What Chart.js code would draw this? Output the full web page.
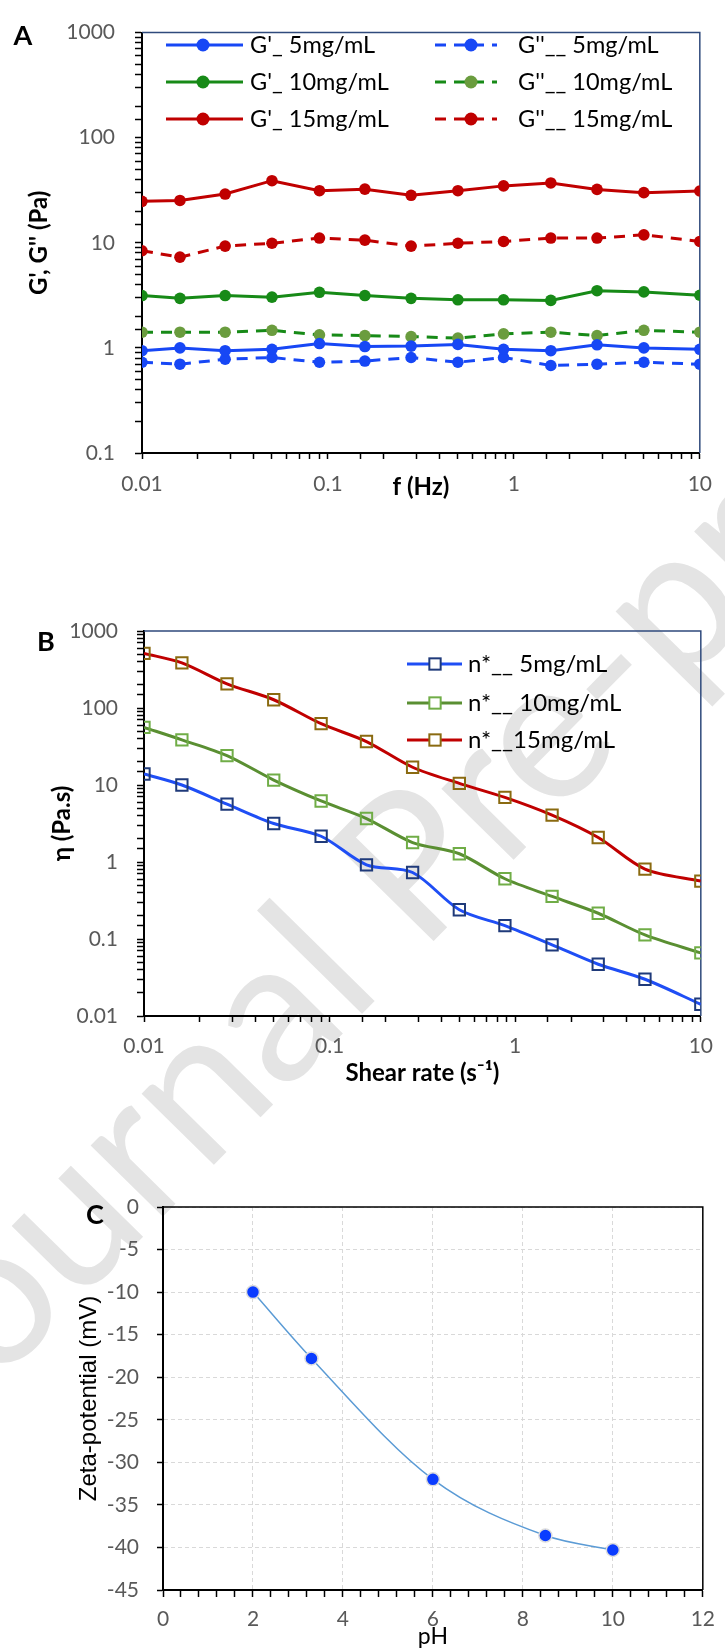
<!DOCTYPE html>
<html>
<head>
<meta charset="utf-8">
<script src="https://cdn.jsdelivr.net/npm/chart.js@4.4.1/dist/chart.umd.min.js"></script>
<style>
  html, body { margin: 0; padding: 0; background: #fff; overflow: hidden; }
  #page { position: relative; width: 725px; height: 1652px; overflow: hidden; }
  canvas { position: absolute; left: 0; z-index: 1; }
  .wm {
    position: absolute; left: 420px; top: 845px; z-index: 0;
    transform: translate(-50%, -50%) rotate(-45.5deg);
    font-family: Lato, sans-serif; font-size: 200px; color: #e4e4e4;
    white-space: nowrap;
  }
</style>
</head>
<body>
<div id="page">
  <div class="wm">Journal Pre-proof</div>
  <canvas id="chartA" width="725" height="540" style="top:0"></canvas>
  <canvas id="chartB" width="725" height="540" style="top:560px"></canvas>
  <canvas id="chartC" width="725" height="502" style="top:1150px"></canvas>
</div>
<script>
// frequency / shear rate sweep (same points for A and B)
var freq = [0.01, 0.016, 0.028, 0.05, 0.09, 0.158, 0.28, 0.5, 0.88, 1.58, 2.8, 5, 10];

// A : moduli (Pa)
var gp5   = [0.94, 1.0, 0.94, 0.97, 1.10, 1.03, 1.04, 1.08, 0.97, 0.94, 1.07, 1.0, 0.97];
var gpp5  = [0.73, 0.70, 0.78, 0.81, 0.73, 0.75, 0.81, 0.73, 0.81, 0.68, 0.70, 0.73, 0.70];
var gp10  = [3.15, 2.96, 3.15, 3.04, 3.38, 3.15, 2.96, 2.87, 2.87, 2.83, 3.50, 3.41, 3.17];
var gpp10 = [1.41, 1.41, 1.41, 1.47, 1.33, 1.31, 1.28, 1.24, 1.36, 1.41, 1.31, 1.47, 1.41];
var gp15  = [24.8, 25.3, 29.1, 39.0, 31.3, 32.4, 28.3, 31.3, 34.8, 37.1, 32.2, 30.0, 31.1];
var gpp15 = [8.4, 7.3, 9.3, 9.9, 11.1, 10.6, 9.3, 9.9, 10.3, 11.1, 11.1, 11.9, 10.3];

// B : complex viscosity (Pa.s)
var eta5  = [13.9, 10.0, 5.65, 3.16, 2.16, 0.92, 0.73, 0.24, 0.149, 0.084, 0.047, 0.030, 0.0142];
var eta10 = [56, 38.6, 24.1, 11.6, 6.2, 3.67, 1.79, 1.28, 0.606, 0.357, 0.216, 0.113, 0.066];
var eta15 = [512, 386, 206, 128, 62.5, 36.7, 17.0, 10.5, 6.9, 4.06, 2.08, 0.81, 0.565];

// C : zeta potential vs pH
var ph   = [2, 3.3, 6, 8.5, 10];
var zeta = [-10, -17.8, -32, -38.6, -40.3];

Chart.defaults.font.family = 'Lato, sans-serif';

function pairs(xs, ys) {
  return xs.map(function(x, i) { return { x: x, y: ys[i] }; });
}

// only label the decades on log axes
function decadeLabel(v) {
  var l = Math.log10(v);
  return Math.abs(l - Math.round(l)) < 1e-6 ? String(Math.pow(10, Math.round(l))) : '';
}

function isEven(v) {
  return Math.abs(v / 2 - Math.round(v / 2)) < 1e-6;
}

// top + right border of the plot area
var framePlugin = {
  id: 'frame',
  beforeDatasetsDraw: function(chart, args, opts) {
    var a = chart.chartArea, ctx = chart.ctx;
    ctx.save();
    ctx.strokeStyle = opts.color;
    ctx.lineWidth = opts.width;
    ctx.beginPath();
    ctx.moveTo(a.left, a.top);
    ctx.lineTo(a.right, a.top);
    ctx.lineTo(a.right, a.bottom);
    ctx.stroke();
    ctx.restore();
  }
};

// legend drawn inside the plot, one entry per item
var keyPlugin = {
  id: 'key',
  afterDraw: function(chart, args, opts) {
    var ctx = chart.ctx;
    ctx.save();
    ctx.font = opts.font;
    ctx.textBaseline = 'middle';
    opts.items.forEach(function(it) {
      var ds = chart.data.datasets[it.ds];
      var cx = it.mx;
      ctx.strokeStyle = ds.borderColor;
      ctx.lineWidth = ds.borderWidth;
      ctx.setLineDash(ds.borderDash || []);
      ctx.beginPath();
      ctx.moveTo(it.x1, it.y);
      ctx.lineTo(it.x2, it.y);
      ctx.stroke();
      ctx.setLineDash([]);
      if (ds.pointStyle === 'rect') {
        var s = opts.radius * Math.SQRT1_2;
        ctx.fillStyle = '#fff';
        ctx.fillRect(cx - s, it.y - s, 2 * s, 2 * s);
        ctx.strokeStyle = ds.pointBorderColor;
        ctx.lineWidth = ds.pointBorderWidth;
        ctx.strokeRect(cx - s, it.y - s, 2 * s, 2 * s);
      } else {
        ctx.fillStyle = ds.pointBackgroundColor;
        ctx.beginPath();
        ctx.arc(cx, it.y, opts.radius, 0, Math.PI * 2);
        ctx.fill();
      }
      ctx.fillStyle = '#000';
      ctx.fillText(ds.label, it.tx, it.y);
    });
    ctx.restore();
  }
};

// panel letter
var tagPlugin = {
  id: 'tag',
  afterDraw: function(chart, args, opts) {
    var ctx = chart.ctx;
    ctx.save();
    ctx.font = 'bold 27px Lato, sans-serif';
    ctx.fillStyle = '#000';
    ctx.textAlign = 'center';
    ctx.textBaseline = 'middle';
    ctx.fillText(opts.text, opts.x, opts.y);
    ctx.restore();
  }
};

function logAxis(min, max, size, pos, o) {
  var horiz = pos === 'bottom';
  return {
    type: 'logarithmic', position: pos, min: min, max: max,
    afterFit: function(s) { if (horiz) s.height = size; else s.width = size; },
    border: { color: '#000', width: 2 },
    grid: { drawOnChartArea: false, tickLength: horiz ? 6 : 7, tickColor: '#000', tickWidth: 1.5 },
    ticks: { autoSkip: false, maxRotation: 0, padding: o.pad, color: '#595959', font: { size: 21 }, callback: decadeLabel },
    title: { display: true, text: o.title, color: '#000', font: { size: 24, weight: 'bold' }, padding: o.titlePad }
  };
}

// ---------- A ----------
var blue = '#1747f5', green = '#178a17', green2 = '#6a9c3e', red = '#c00000';

function seriesA(label, vals, color, marker, dash) {
  return {
    label: label, data: pairs(freq, vals),
    borderColor: color, backgroundColor: marker, borderWidth: 3, borderDash: dash,
    pointRadius: 5.8, pointBackgroundColor: marker, pointBorderColor: marker, pointBorderWidth: 0
  };
}

var chartA = new Chart(document.getElementById('chartA').getContext('2d'), {
  type: 'line',
  data: {
    datasets: [
      seriesA("G'_ 5mg/mL", gp5, blue, blue, []),
      seriesA("G''__ 5mg/mL", gpp5, blue, blue, [11, 8]),
      seriesA("G'_ 10mg/mL", gp10, green, green, []),
      seriesA("G''__ 10mg/mL", gpp10, green, green2, [11, 8]),
      seriesA("G'_ 15mg/mL", gp15, red, red, []),
      seriesA("G''__ 15mg/mL", gpp15, red, red, [11, 8])
    ]
  },
  options: {
    responsive: false, animation: false,
    layout: { padding: { top: 20, right: 17, left: 0, bottom: 0 } },
    plugins: {
      legend: { display: false }, tooltip: { enabled: false },
      frame: { color: '#2f4a7c', width: 1.5 },
      tag: { text: 'A', x: 23, y: 36 },
      key: {
        font: '23.5px Lato, sans-serif', radius: 6.5,
        items: [
          { ds: 0, x1: 166, x2: 243, mx: 203, tx: 250, y: 45 },
          { ds: 1, x1: 435, x2: 497, mx: 471, tx: 518, y: 45 },
          { ds: 2, x1: 166, x2: 243, mx: 203, tx: 250, y: 82 },
          { ds: 3, x1: 435, x2: 497, mx: 471, tx: 518, y: 82 },
          { ds: 4, x1: 166, x2: 243, mx: 203, tx: 250, y: 119 },
          { ds: 5, x1: 435, x2: 497, mx: 471, tx: 518, y: 119 }
        ]
      }
    },
    scales: {
      x: logAxis(0.01, 10, 87, 'bottom', { pad: 13, title: 'f (Hz)', titlePad: { top: 0, bottom: 38 } }),
      y: logAxis(0.1, 1000, 142, 'left', { pad: 20, title: "G', G'' (Pa)", titlePad: { top: 25, bottom: 0 } })
    }
  },
  plugins: [framePlugin, keyPlugin, tagPlugin]
});

// ---------- B ----------
function seriesB(label, vals, color, marker) {
  return {
    label: label, data: pairs(freq, vals),
    borderColor: color, borderWidth: 3, tension: 0.3,
    pointStyle: 'rect', pointRadius: 8, pointBackgroundColor: 'rgba(0,0,0,0)',
    pointBorderColor: marker, pointBorderWidth: 2
  };
}

var chartB = new Chart(document.getElementById('chartB').getContext('2d'), {
  type: 'line',
  data: {
    datasets: [
      seriesB('n*__ 5mg/mL', eta5, '#1f4ef5', '#1f3a7a'),
      seriesB('n*__ 10mg/mL', eta10, '#5a8f32', '#70ad47'),
      seriesB('n*__15mg/mL', eta15, '#c00000', '#8a6a10')
    ]
  },
  options: {
    responsive: false, animation: false,
    layout: { padding: { top: 71, right: 19, left: 0, bottom: 0 } },
    plugins: {
      legend: { display: false }, tooltip: { enabled: false },
      frame: { color: '#2f4a7c', width: 1.5 },
      tag: { text: 'B', x: 46, y: 82 },
      key: {
        font: '24px Lato, sans-serif', radius: 8,
        items: [
          { ds: 0, x1: 407, x2: 462, mx: 435, tx: 468, y: 104 },
          { ds: 1, x1: 407, x2: 462, mx: 435, tx: 468, y: 143 },
          { ds: 2, x1: 407, x2: 462, mx: 435, tx: 468, y: 180 }
        ]
      }
    },
    scales: {
      x: logAxis(0.01, 10, 84, 'bottom', { pad: 12, title: 'Shear rate (s\u207B\u00B9)', titlePad: { top: 0, bottom: 12 } }),
      y: logAxis(0.01, 1000, 144, 'left', { pad: 19, title: '\u03B7 (Pa.s)', titlePad: { top: 48, bottom: 0 } })
    }
  },
  plugins: [framePlugin, keyPlugin, tagPlugin]
});

// ---------- C ----------
var chartC = new Chart(document.getElementById('chartC').getContext('2d'), {
  type: 'line',
  data: {
    datasets: [{
      label: 'Zeta-potential (mV)', data: pairs(ph, zeta),
      borderColor: '#5b9bd5', borderWidth: 1.5, cubicInterpolationMode: 'monotone',
      pointRadius: 6.5, pointBackgroundColor: '#0a3cff', pointBorderColor: '#dcdcdc', pointBorderWidth: 1.5
    }]
  },
  options: {
    responsive: false, animation: false,
    layout: { padding: { top: 57, right: 22, left: 0, bottom: 0 } },
    plugins: {
      legend: { display: false }, tooltip: { enabled: false },
      frame: { color: '#000', width: 1.5 },
      tag: { text: 'C', x: 95, y: 65 }
    },
    scales: {
      x: {
        type: 'linear', min: 0, max: 12,
        afterFit: function(s) { s.height = 62; },
        border: { color: '#000', width: 2, dash: [4, 3] },
        grid: {
          color: function(c) { return c.tick && isEven(c.tick.value) ? '#d9d9d9' : 'rgba(0,0,0,0)'; },
          tickLength: 7, tickColor: '#000', tickWidth: 1.5
        },
        ticks: {
          stepSize: 0.4, autoSkip: false, maxRotation: 0, padding: 10, color: '#595959', font: { size: 21 },
          callback: function(v) { return isEven(v) ? String(Math.round(v)) : ''; }
        },
        title: { display: true, text: 'pH', color: '#000', font: { size: 23 }, padding: { top: 0, bottom: 2 } }
      },
      y: {
        min: -45, max: 0,
        afterFit: function(s) { s.width = 163; },
        border: { color: '#000', width: 2, dash: [4, 3] },
        grid: { color: '#d9d9d9', tickLength: 6, tickColor: '#000', tickWidth: 1.5 },
        ticks: { stepSize: 5, autoSkip: false, padding: 18, color: '#595959', font: { size: 21 } },
        title: { display: true, text: 'Zeta-potential (mV)', color: '#000', font: { family: 'Liberation Sans, Arial, sans-serif', size: 24 }, padding: { top: 75, bottom: 0 } }
      }
    }
  },
  plugins: [framePlugin, tagPlugin]
});
</script>
</body>
</html>
